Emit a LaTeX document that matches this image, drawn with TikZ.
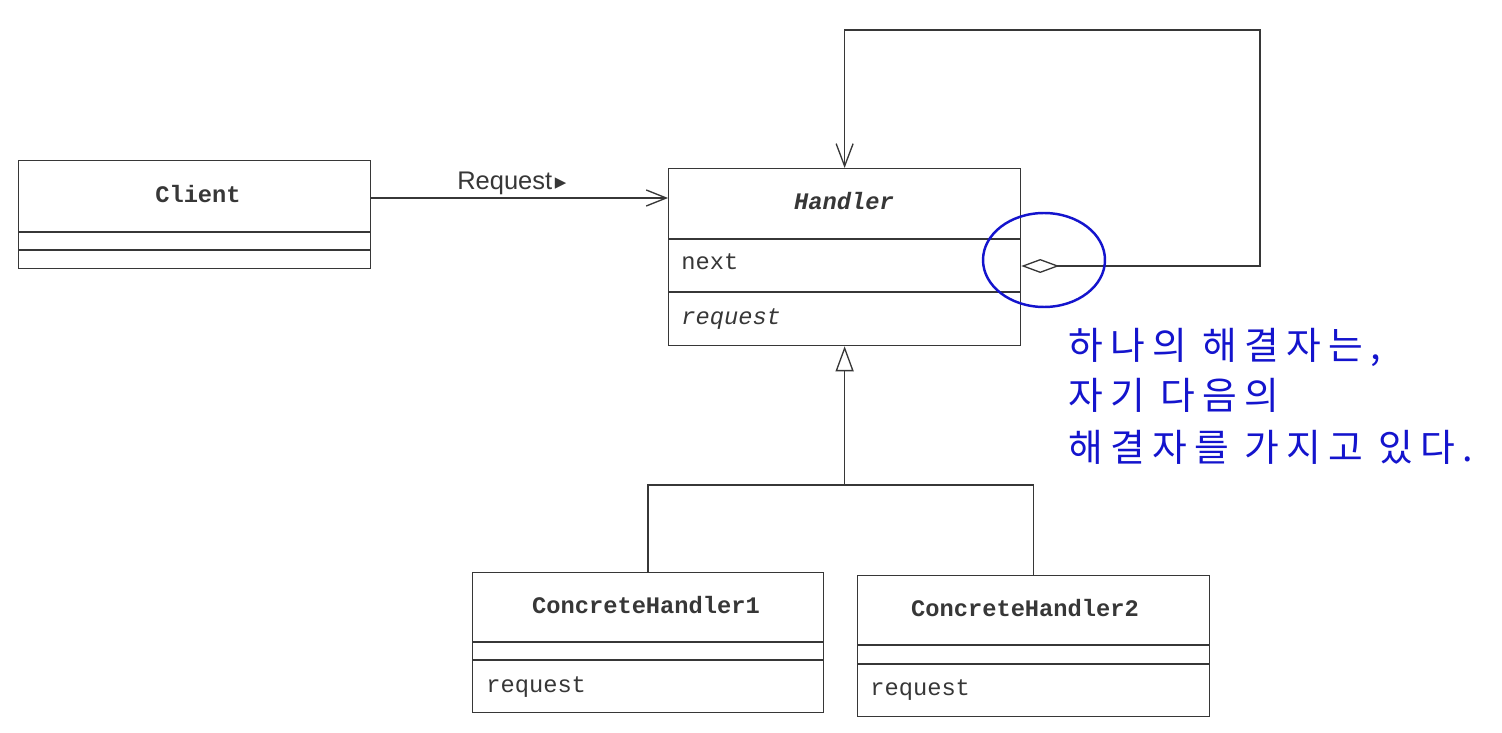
\documentclass[tikz,border=0pt]{standalone}
\usepackage{fontspec}
\setmonofont{Liberation Mono}
\setsansfont{Liberation Sans}
\newfontfamily\kofont[LetterSpace=19]{Noto Sans CJK KR}
\newfontfamily\symfont{DejaVu Sans}
\usetikzlibrary{arrows.meta,shapes.geometric}
\definecolor{ink}{RGB}{55,55,55}
\definecolor{note}{RGB}{20,20,205}
\begin{document}
\begin{tikzpicture}[x=0.02cm,y=-0.02cm,
  cls/.style={draw=ink, line width=0.75pt, inner sep=0pt, anchor=north west},
  title/.style={font=\ttfamily\bfseries\fontsize{13.5}{16}\selectfont, text=ink, anchor=base, inner sep=0pt},
  member/.style={font=\ttfamily\fontsize{13.5}{16}\selectfont, text=ink, anchor=base west, inner sep=0pt},
  conn/.style={draw=ink, line width=0.75pt},
  kotext/.style={font=\kofont\fontsize{21.5}{26}\selectfont, text=note, anchor=base west, inner sep=0pt}]
\useasboundingbox (0,0) rectangle (1502,733);
\fill[white] (0,0) rectangle (1502,733);

% Client
\node[cls, minimum width=7.04cm, minimum height=2.16cm] (client) at (18,160) {};
\node[title] (clientT) at (198,203) {Client};
\draw[conn] (client.west |- 0,232) -- (client.east |- 0,232);
\draw[conn] (client.west |- 0,250) -- (client.east |- 0,250);

% Handler
\node[cls, minimum width=7.04cm, minimum height=3.54cm] (handler) at (668,168) {};
\node[title, font=\ttfamily\bfseries\itshape\fontsize{13.5}{16}\selectfont] (handlerT) at (844,210) {Handler};
\draw[conn] (handler.west |- 0,239) -- (handler.east |- 0,239);
\draw[conn] (handler.west |- 0,292) -- (handler.east |- 0,292);
\node[member] (hnext) at (681,270) {next};
\node[member, font=\ttfamily\itshape\fontsize{13.5}{16}\selectfont] (hreq) at (681,325) {request};

% ConcreteHandler1
\node[cls, minimum width=7.02cm, minimum height=2.8cm] (ch1) at (472,572) {};
\node[title] (ch1T) at (646,613) {ConcreteHandler1};
\draw[conn] (ch1.west |- 0,642) -- (ch1.east |- 0,642);
\draw[conn] (ch1.west |- 0,660) -- (ch1.east |- 0,660);
\node[member] (ch1req) at (486,692) {request};

% ConcreteHandler2
\node[cls, minimum width=7.04cm, minimum height=2.82cm] (ch2) at (857,575) {};
\node[title] (ch2T) at (1025,616) {ConcreteHandler2};
\draw[conn] (ch2.west |- 0,645) -- (ch2.east |- 0,645);
\draw[conn] (ch2.west |- 0,664) -- (ch2.east |- 0,664);
\node[member] (ch2req) at (870,695) {request};

% Request association
\draw[conn, -{Straight Barb[length=0.4cm,width=0.32cm]}] (client.east |- 0,198) -- (handler.west |- 0,198);
\node[font=\sffamily\fontsize{14.5}{17}\selectfont, text=ink, anchor=base west, inner sep=0pt] (rqlabel) at (457,190) {Request\hspace{1.5pt}{\symfont\fontsize{13}{15}\selectfont ▸}};

% self aggregation (next)
\draw[conn, {Diamond[open,length=0.76cm,width=0.28cm]}-{Straight Barb[length=0.45cm,width=0.34cm]}]
  (handler.east |- 0,266) -- (1260,266) -- (1260,30) -- (handler.north |- 0,30) -- (handler.north);

% generalization
\draw[conn, -{Triangle[open,length=0.5cm,width=0.36cm]}]
  (ch1.north) -- (ch1.north |- 0,485) -- (handler.south |- 0,485) -- (handler.south);
\draw[conn] (ch2.north) -- (ch2.north |- 0,485) -- (handler.south |- 0,485);

% annotation
\node[draw=note, line width=1.4pt, ellipse, minimum width=2.44cm, minimum height=1.88cm, inner sep=0pt] (ring) at (1044,260) {};
\node[kotext] (k1) at (1068,359) {하나의 해결자는,};
\node[kotext] (k2) at (1068,410) {자기 다음의};
\node[kotext] (k3) at (1068,461) {해결자를 가지고 있다.};
\end{tikzpicture}
\end{document}
